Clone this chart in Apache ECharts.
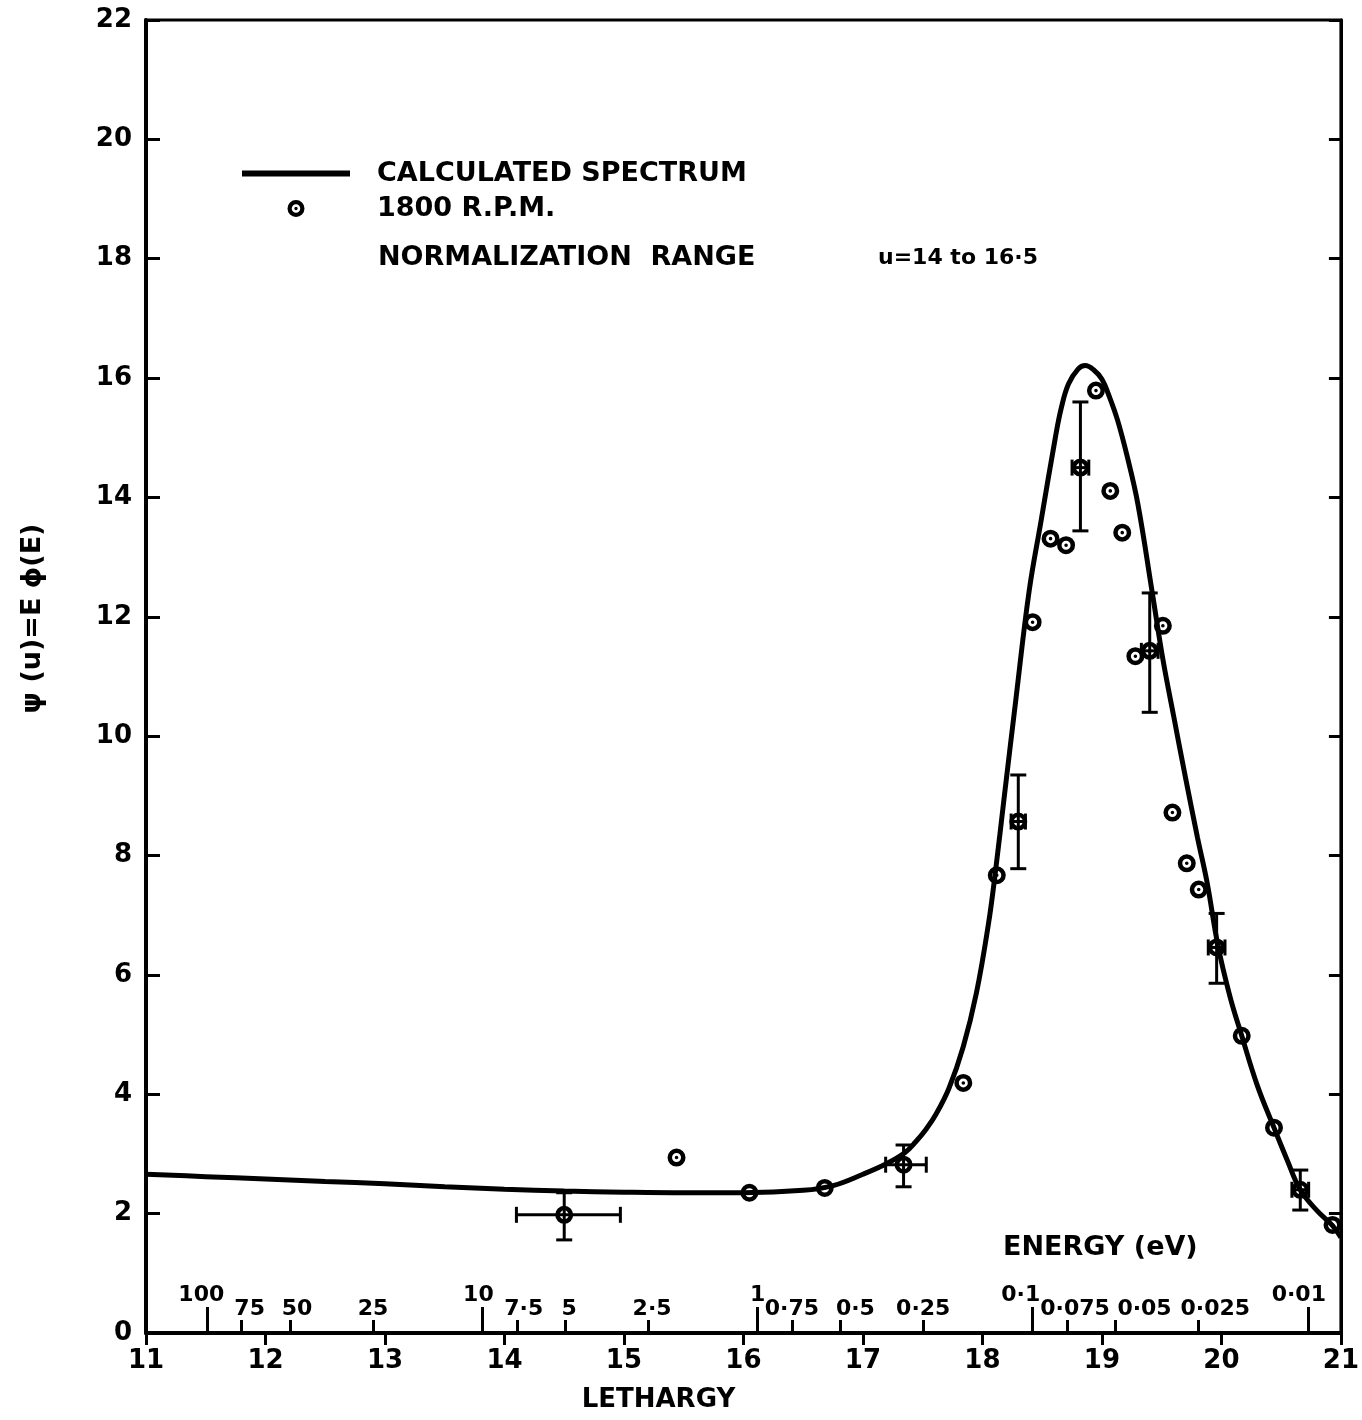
<!DOCTYPE html>
<html>
<head>
<meta charset="utf-8">
<script src="https://cdn.jsdelivr.net/npm/echarts@6/dist/echarts.min.js"></script>
<style>
  html, body { margin: 0; padding: 0; background: #fff; }
  #chart { width: 1362px; height: 1420px; }
</style>
</head>
<body>
<div id="chart"></div>
<script>
// calculated spectrum: [lethargy, psi]
const curveU = [11, 11.5, 12, 12.5, 13, 13.5, 14, 14.5, 15, 15.5, 16, 16.5, 16.75, 17.0, 17.2, 17.35, 17.44, 17.53, 17.61, 17.72, 17.84, 17.95, 18.05, 18.11, 18.18, 18.28, 18.39, 18.49, 18.61, 18.66, 18.72, 18.80, 18.86, 18.93, 19.0, 19.06, 19.13, 19.21, 19.3, 19.42, 19.51, 19.6, 19.7, 19.8, 19.88, 19.97, 20.07, 20.17, 20.3, 20.44, 20.55, 20.66, 20.8, 20.93, 21.0];
const curvePsi = [2.66, 2.62, 2.58, 2.54, 2.50, 2.45, 2.41, 2.38, 2.36, 2.35, 2.35, 2.39, 2.47, 2.66, 2.84, 3.02, 3.2, 3.42, 3.66, 4.1, 4.8, 5.7, 6.85, 7.75, 8.94, 10.62, 12.42, 13.6, 15.0, 15.5, 15.9, 16.15, 16.21, 16.14, 15.98, 15.7, 15.3, 14.7, 13.9, 12.42, 11.29, 10.34, 9.3, 8.3, 7.55, 6.5, 5.65, 4.98, 4.15, 3.44, 2.9, 2.4, 2.05, 1.8, 1.6];

// 1800 r.p.m. measurements
const pointU = [14.50, 15.44, 16.05, 16.68, 17.34, 17.84, 18.12, 18.30, 18.42, 18.57, 18.70, 18.82, 18.95, 19.07, 19.17, 19.28, 19.40, 19.51, 19.59, 19.71, 19.81, 19.96, 20.17, 20.44, 20.66, 20.93];
const pointPsi = [1.98, 2.94, 2.35, 2.43, 2.82, 4.19, 7.67, 8.57, 11.91, 13.31, 13.20, 14.50, 15.79, 14.11, 13.41, 11.34, 11.43, 11.85, 8.72, 7.87, 7.43, 6.46, 4.98, 3.44, 2.40, 1.81];

// error bars: [u, psi, uLow, uHigh, psiLow, psiHigh]
const errorBars = [
  [14.50, 1.98, 14.10, 14.97, 1.56, 2.35],
  [17.34, 2.82, 17.19, 17.53, 2.45, 3.15],
  [18.30, 8.57, 18.24, 18.36, 7.78, 9.35],
  [18.82, 14.50, 18.75, 18.89, 13.44, 15.60],
  [19.40, 11.43, 19.33, 19.47, 10.40, 12.40],
  [19.96, 6.46, 19.89, 20.03, 5.86, 7.03],
  [20.66, 2.40, 20.59, 20.73, 2.06, 2.73]
];

// secondary energy scale (eV), u = ln(E0 / E) with E0 = 10 MeV
const E0 = 1e7;
const energyMajor = ['100', '10', '1', '0·1', '0·01'];
const energyMinor = ['75', '50', '25', '7·5', '5', '2·5', '0·75', '0·5', '0·25', '0·075', '0·05', '0·025'];

const FONT = 'DejaVu Sans';
const toU = s => Math.log(E0 / parseFloat(s.replace('·', '.')));

// label nudges (px, + = right) so the crowded energy labels sit like the original
const nudge = { '100': -6, '10': -4, '0·1': -12, '0·01': -9, '75': 8, '50': 7, '7·5': 7, '5': 4, '2·5': 4, '0·5': 15, '0·075': 8, '0·05': 29, '0·025': 17 };

function energyAxis (labels, tickLen, labelMargin) {
  const vals = labels.map(toU);
  const rich = {};
  labels.forEach((s, i) => {
    const d = nudge[s] || 0;
    rich['e' + i] = {
      fontFamily: FONT, fontWeight: 'bold', fontSize: 22, color: '#000',
      padding: d >= 0 ? [0, 0, 0, 2 * d] : [0, -2 * d, 0, 0]
    };
  });
  return {
    type: 'value', min: 11, max: 21, position: 'bottom', gridIndex: 0,
    axisLine: { show: false },
    splitLine: { show: false },
    axisTick: { show: true, inside: true, length: tickLen, customValues: vals, lineStyle: { color: '#000', width: 3 } },
    axisLabel: {
      show: true, inside: true, margin: labelMargin, customValues: vals,
      formatter: function (v) {
        let best = 0;
        vals.forEach((x, i) => { if (Math.abs(x - v) < Math.abs(vals[best] - v)) best = i; });
        return '{e' + best + '|' + labels[best] + '}';
      },
      rich: rich
    }
  };
}

const chart = echarts.init(document.getElementById('chart'), null, { renderer: 'canvas' });

const ringDot = 'path://M0,10A10,10,0,1,1,20,10A10,10,0,1,1,0,10ZM5,10A5,5,0,1,0,15,10A5,5,0,1,0,5,10ZM8,10A2,2,0,1,1,12,10A2,2,0,1,1,8,10Z';

chart.setOption({
  animation: false,
  backgroundColor: '#fff',
  grid: { left: 146, right: 17, top: 20, bottom: 87, show: true, borderColor: '#000', borderWidth: 3 },
  legend: {
    data: [
      { name: 'CALCULATED SPECTRUM', icon: 'path://M0,0H108V6H0Z' },
      { name: '1800 R.P.M.' }
    ],
    orient: 'vertical', left: 237, top: 155,
    itemWidth: 108, itemHeight: 17, itemGap: 8,
    textStyle: { fontFamily: FONT, fontWeight: 'bold', fontSize: 27, color: '#000', padding: [0, 0, 0, 22] },
    selectedMode: false
  },
  graphic: [
    { type: 'text', left: 378, top: 244, style: { text: 'NORMALIZATION  RANGE', font: 'bold 27px "DejaVu Sans"', fill: '#000' } },
    { type: 'text', left: 878, top: 247, style: { text: 'u=14 to 16·5', font: 'bold 22px "DejaVu Sans"', fill: '#000' } },
    { type: 'text', left: 1003, top: 1234, style: { text: 'ENERGY (eV)', font: 'bold 27px "DejaVu Sans"', fill: '#000' } }
  ],
  xAxis: [
    {
      type: 'value', min: 11, max: 21, interval: 1, position: 'bottom',
      name: 'LETHARGY', nameLocation: 'middle', nameGap: 54,
      nameTextStyle: { fontFamily: FONT, fontWeight: 'bold', fontSize: 26, color: '#000', padding: [0, 170, 0, 0] },
      axisLine: { lineStyle: { color: '#000', width: 4 } },
      axisTick: { inside: false, length: 12, lineStyle: { color: '#000', width: 3 } },
      axisLabel: { fontFamily: FONT, fontWeight: 'bold', fontSize: 26, color: '#000', margin: 15 },
      splitLine: { show: false }
    },
    energyAxis(energyMajor, 26, 27),
    energyAxis(energyMinor, 13, 13)
  ],
  yAxis: [
    {
      type: 'value', min: 0, max: 22, interval: 2, position: 'left',
      name: 'ψ (u)=E ϕ(E)', nameLocation: 'middle', nameGap: 100, nameRotate: 90,
      nameTextStyle: { fontFamily: FONT, fontWeight: 'bold', fontSize: 27, color: '#000', padding: [0, 0, 0, 116] },
      axisLine: { show: true, lineStyle: { color: '#000', width: 4 } },
      axisTick: { show: true, inside: true, length: 14, lineStyle: { color: '#000', width: 3 } },
      axisLabel: { fontFamily: FONT, fontWeight: 'bold', fontSize: 26, color: '#000', margin: 14 },
      splitLine: { show: false }
    },
    {
      type: 'value', min: 0, max: 22, interval: 2, position: 'right',
      axisLine: { show: true, lineStyle: { color: '#000', width: 3 } },
      axisTick: { show: true, inside: true, length: 12, lineStyle: { color: '#000', width: 3 } },
      axisLabel: { show: false },
      splitLine: { show: false }
    }
  ],
  series: [
    {
      name: 'CALCULATED SPECTRUM',
      type: 'line',
      data: curveU.map((u, i) => [u, curvePsi[i]]),
      symbol: 'none', smooth: 0.4,
      lineStyle: { color: '#000', width: 5 },
      itemStyle: { color: '#000' },
      z: 3
    },
    {
      name: 'errors',
      type: 'custom',
      data: errorBars,
      renderItem: function (params, api) {
        const c = api.coord([api.value(0), api.value(1)]);
        const lo = api.coord([api.value(0), api.value(4)]);
        const hi = api.coord([api.value(0), api.value(5)]);
        const l = api.coord([api.value(2), api.value(1)]);
        const r = api.coord([api.value(3), api.value(1)]);
        const cap = 8;
        const st = { stroke: '#000', lineWidth: 3 };
        const seg = (x1, y1, x2, y2) => ({ type: 'line', shape: { x1, y1, x2, y2 }, style: st });
        return {
          type: 'group',
          children: [
            seg(c[0], lo[1], c[0], hi[1]),
            seg(c[0] - cap, lo[1], c[0] + cap, lo[1]),
            seg(c[0] - cap, hi[1], c[0] + cap, hi[1]),
            seg(l[0], c[1], r[0], c[1]),
            seg(l[0], c[1] - cap, l[0], c[1] + cap),
            seg(r[0], c[1] - cap, r[0], c[1] + cap)
          ]
        };
      },
      z: 4
    },
    {
      name: '1800 R.P.M.',
      type: 'scatter',
      data: pointU.map((u, i) => [u, pointPsi[i]]),
      symbol: ringDot, symbolSize: 18, symbolKeepAspect: true,
      itemStyle: { color: '#000', opacity: 1 },
      z: 5
    }
  ]
});
</script>
</body>
</html>
